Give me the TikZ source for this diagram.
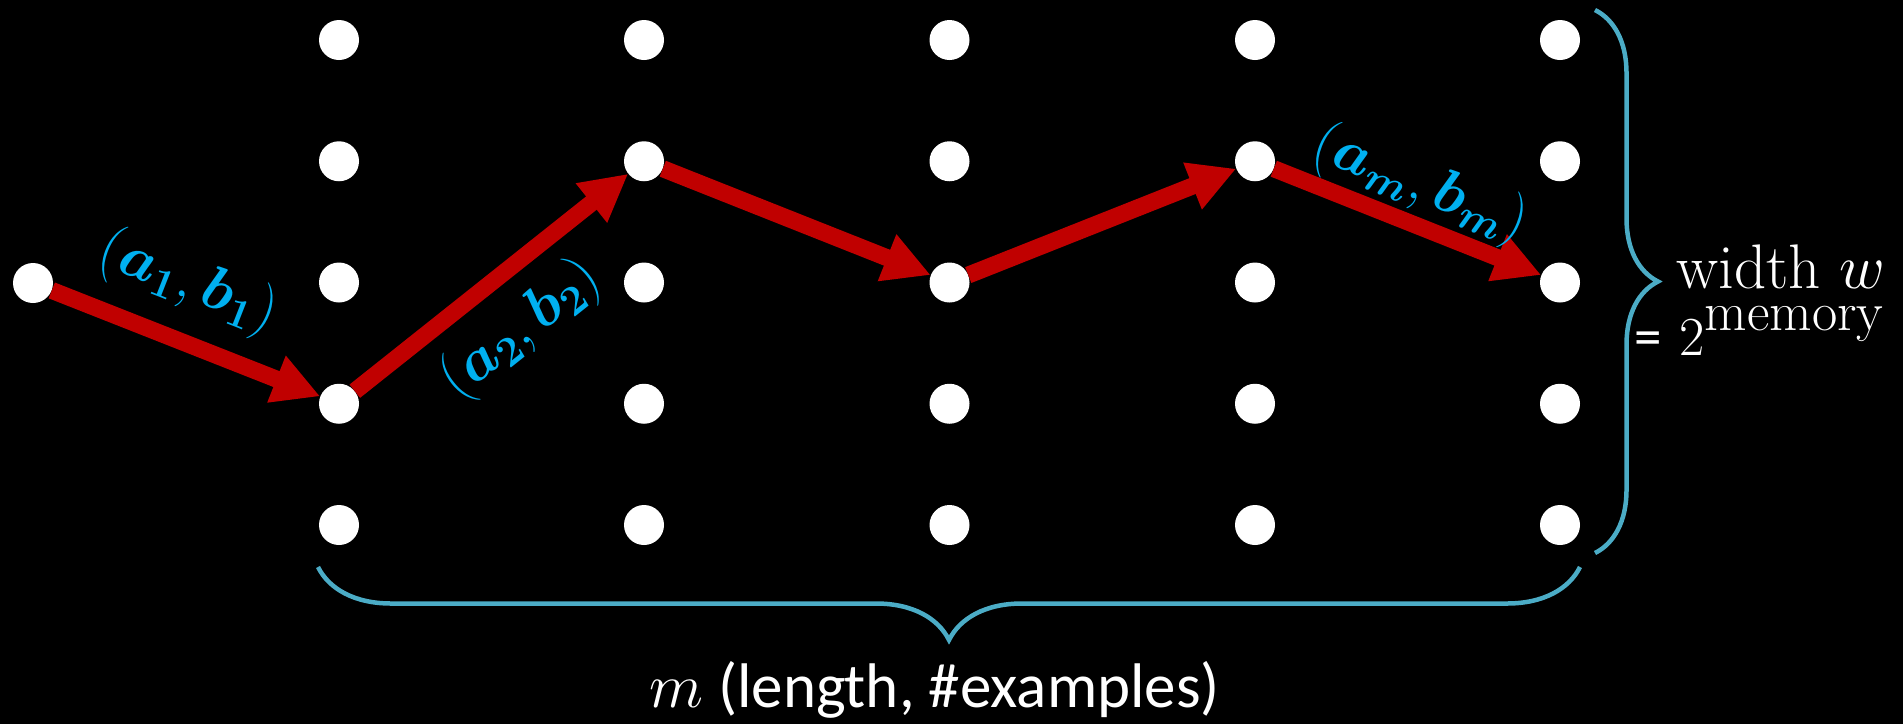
\RequirePackage{fix-cm}
\documentclass[tikz,border=0pt]{standalone}
\usepackage{fontspec}
\usepackage{bm}
\usepackage{xcolor}
\usepackage{tikz}
\usetikzlibrary{arrows.meta,decorations.pathreplacing}
\newfontfamily\calibri{Carlito}
\definecolor{pathred}{HTML}{C00000}
\definecolor{lblblue}{HTML}{00B0F0}
\definecolor{bracecol}{HTML}{4BACC6}

\begin{document}
\begin{tikzpicture}[
  x=1pt, y=-1pt,
  dot/.style={circle, fill=white, minimum size=40pt, inner sep=0pt},
  arr/.style={-{Triangle[length=47pt,width=47pt]}, line width=17pt, pathred},
  lbl/.style={text=lblblue, inner sep=0pt, font=\fontsize{60}{60}\selectfont},
  brc/.style={decorate, decoration={brace, amplitude=#1}, bracecol, line width=4.5pt},
  txt/.style={text=white, inner sep=0pt}]

\fill[black] (0,0) rectangle (1903,724);
\useasboundingbox (0,0) rectangle (1903,724);

% The grid of states: 5 steps, 5 states each.
\node[dot] (s) at (33,283) {};
\foreach \c [count=\i] in {339,644,949.5,1255,1560}
  \foreach \j in {1,...,5}
    \node[dot] (p\i\j) at (\c,{40+121.25*(\j-1)}) {};

% The walk through the states.
\draw[arr] (s) -- (p14);
\draw[arr] (p14) -- (p22);
\draw[arr] (p22) -- (p33);
\draw[arr] (p33) -- (p42);
\draw[arr] (p42) -- (p53);
\node[lbl, rotate=-21.4] (l1) at (188,283) {$(\bm{a_1},\bm{b_1})$};
\node[lbl, rotate=38.6] (l2) at (521,330) {$(\bm{a_2},\bm{b_2})$};
\node[lbl, rotate=-21.8] (lm) at (1420,185) {$(\bm{a_m},\bm{b_m})$};

% Braces and their texts.
\draw[brc=63] (1595,10) -- (1595,553);
\draw[brc=73] (1580,567) -- (318,567);
\node[txt, anchor=base west, font=\fontsize{63}{63}\selectfont] (wd) at (1676,288) {width $w$};
\node[txt, anchor=base west, font=\fontsize{55}{55}\selectfont] (mem) at (1634,355)
  {{\calibri =}\hspace{18pt}2\raisebox{25pt}{memory}};
\node[txt, anchor=base, font=\calibri\fontsize{63}{63}\selectfont] (len) at (935,707)
  {$m$ (length, \#examples)};
\end{tikzpicture}
\end{document}
